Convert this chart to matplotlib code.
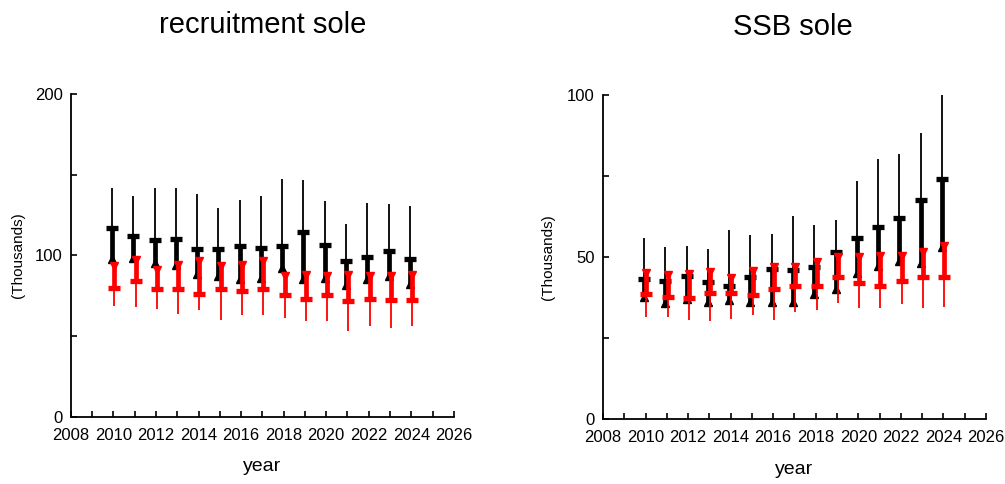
import numpy as np
import matplotlib.pyplot as plt

plt.rcParams['font.family'] = ['Liberation Sans', 'DejaVu Sans']

years = np.arange(2010, 2025)

# recruitment (thousands): black = upper half, red = lower half
rec_b_mid = [98, 98.3, 95.2, 93.8, 88.6, 87, 85.1, 86.1, 92.3, 85.5, 86.1, 81.4, 85.5, 87, 82.4]
rec_b_q = [117, 112, 109.7, 110, 104.1, 104.1, 105.6, 104.8, 106, 114.5, 106.2, 96.3, 98.9, 102.5, 98]
rec_b_hi = [141.4, 136.6, 141.4, 141.8, 137.9, 129, 134.2, 136.8, 147.2, 146.6, 133.7, 119.3, 132.1, 131.7, 130.4]
rec_r_mid = [93.4, 96.9, 91, 94.2, 96.5, 93.4, 94.2, 96.5, 87.1, 87.6, 87, 87.6, 87, 87.1, 87.6]
rec_r_q = [80, 83.9, 78.9, 79, 76.2, 79.3, 77.6, 78.9, 75.6, 72.9, 75.6, 72, 73.1, 72.5, 72.5]
rec_r_lo = [68.3, 67.9, 66.9, 63.4, 66.3, 60, 63.1, 63.1, 61.1, 59.2, 59.2, 53.4, 56.1, 55.1, 56.1]

# SSB (thousands)
ssb_b_mid = [37.6, 35.9, 37.2, 36.2, 36.7, 36.2, 36.2, 36.2, 38.8, 40.1, 45.2, 47.3, 48.8, 48.2, 53.2]
ssb_b_q = [43.2, 42.6, 44.1, 42.4, 41, 43.9, 46.5, 46, 47, 51.6, 56, 59.4, 62.2, 67.8, 74.1]
ssb_b_hi = [55.8, 53.2, 53.5, 52.7, 58.3, 56.8, 57.3, 62.7, 60.1, 61.4, 73.5, 80.2, 82, 88.4, 100.2]
ssb_r_mid = [45, 44.4, 44.8, 45.5, 43.7, 45.8, 47, 47, 48.6, 50.1, 50.1, 50.4, 50.4, 51.6, 53.5]
ssb_r_q = [38.8, 37.7, 37.4, 39, 39, 38.3, 40.3, 41.1, 41, 43.9, 42.1, 41, 42.7, 43.9, 43.9]
ssb_r_lo = [31.6, 31.6, 30.6, 30.2, 30.8, 32.1, 30.6, 33.1, 33.6, 35.9, 34.2, 34.2, 35.7, 34.2, 34.7]

fig = plt.figure(figsize=(10.05, 4.84), dpi=100)
ax1 = fig.add_axes([0.0706, 0.139, 0.381, 0.667])
ax2 = fig.add_axes([0.600, 0.134, 0.381, 0.669])


def draw_panel(ax, b_mid, b_q, b_hi, r_mid, r_q, r_lo):
    xb = years - 0.07
    xr = years + 0.04
    # black: thin whisker up to the high value, thick bar from mid to cap
    ax.vlines(xb, b_q, b_hi, color='black', lw=1.3)
    ax.vlines(xb, b_mid, b_q, color='black', lw=3.4)
    ax.plot(xb, b_q, ls='none', marker='_', ms=9, mew=3.8, color='black')
    ax.plot(xb, b_mid, ls='none', marker='^', ms=6, color='black')
    # red: thick bar down from mid to cap, thin whisker below
    ax.vlines(xr, r_lo, r_q, color='red', lw=1.3)
    ax.vlines(xr, r_q, r_mid, color='red', lw=3.4)
    ax.plot(xr, r_q, ls='none', marker='_', ms=9, mew=3.8, color='red')
    ax.plot(xr, r_mid, ls='none', marker='v', ms=6, color='red')

    ax.set_xlim(2008, 2026)
    ax.set_xticks(np.arange(2008, 2027, 2))
    ax.set_xticks(np.arange(2009, 2026, 2), minor=True)
    ax.spines['top'].set_visible(False)
    ax.spines['right'].set_visible(False)
    for s in ('left', 'bottom'):
        ax.spines[s].set_linewidth(1.3)
    ax.tick_params(which='both', direction='in', length=4, width=1.2, labelsize=12)
    ax.tick_params(axis='x', which='both', pad=8)
    ax.tick_params(axis='y', which='both', pad=6)
    ax.set_ylabel('(Thousands)', fontsize=11)
    ax.set_xlabel('year', fontsize=14, labelpad=11)


draw_panel(ax1, rec_b_mid, rec_b_q, rec_b_hi, rec_r_mid, rec_r_q, rec_r_lo)
ax1.set_ylim(0, 200)
ax1.set_yticks([0, 100, 200])
ax1.set_yticks([50, 150], minor=True)
ax1.yaxis.set_label_coords(-0.12, 0.5)

draw_panel(ax2, ssb_b_mid, ssb_b_q, ssb_b_hi, ssb_r_mid, ssb_r_q, ssb_r_lo)
ax2.set_ylim(0, 100)
ax2.set_yticks([0, 50, 100])
ax2.set_yticks([25, 75], minor=True)
ax2.yaxis.set_label_coords(-0.125, 0.5)

fig.text(0.2612, 0.9324, 'recruitment sole', fontsize=21, ha='center', va='baseline')
fig.text(0.7894, 0.9277, 'SSB sole', fontsize=21, ha='center', va='baseline')

fig.savefig('out.png', dpi=100)
